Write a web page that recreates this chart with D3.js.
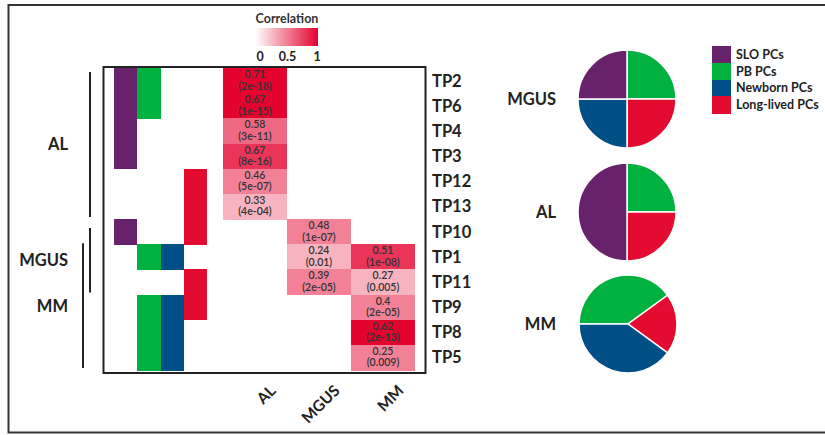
<!DOCTYPE html>
<html>
<head>
<meta charset="utf-8">
<script src="https://cdn.jsdelivr.net/npm/d3@7"></script>
<style>
  body { margin: 0; background: #fff; }
  svg { font-family: Lato, "Open Sans", sans-serif; }
</style>
</head>
<body>
<div id="container"></div>
<script>
// ---- data ----
let rows = ["TP2", "TP6", "TP4", "TP3", "TP12", "TP13", "TP10", "TP1", "TP11", "TP9", "TP8", "TP5"];
let cellTypes = ["SLO PCs", "PB PCs", "Newborn PCs", "Long-lived PCs"];
let typeColors = ["#68216b", "#00b140", "#004f86", "#e30b2f"];

// which time points carry each PC signature
let sloRows = ["TP2", "TP6", "TP4", "TP3", "TP10"];
let pbRows = ["TP2", "TP6", "TP1", "TP9", "TP8", "TP5"];
let newbornRows = ["TP1", "TP9", "TP8", "TP5"];
let longLivedRows = ["TP12", "TP13", "TP10", "TP11", "TP9"];

let groups = ["AL", "MGUS", "MM"];

// [row, correlation, p value, shade on the colour bar]
let alCells = [
  ["TP2", 0.71, "2e-18", 1.0],
  ["TP6", 0.67, "1e-15", 1.0],
  ["TP4", 0.58, "3e-11", 0.6],
  ["TP3", 0.67, "8e-16", 0.8],
  ["TP12", 0.46, "5e-07", 0.5],
  ["TP13", 0.33, "4e-04", 0.3]
];
let mgusCells = [
  ["TP10", 0.48, "1e-07", 0.5],
  ["TP1", 0.24, "0.01", 0.3],
  ["TP11", 0.39, "2e-05", 0.5]
];
let mmCells = [
  ["TP1", 0.51, "1e-08", 0.8],
  ["TP11", 0.27, "0.005", 0.3],
  ["TP9", 0.4, "2e-05", 0.5],
  ["TP8", 0.62, "2e-13", 1.0],
  ["TP5", 0.25, "0.009", 0.5]
];

// disease brackets on the left: [label, first row, last row]
let brackets = [["AL", "TP2", "TP13"], ["MGUS", "TP10", "TP11"], ["MM", "TP1", "TP5"]];

// pie shares in cellTypes order
let pieGroups = ["MGUS", "AL", "MM"];
let mgusShares = [1, 1, 1, 1];
let alShares = [2, 1, 0, 1];
let mmShares = [0, 2, 2, 1];

let colorTicks = [0, 0.5, 1];

// ---- layout ----
let w = 825;
let h = 435;

let viz = d3.select("#container")
  .append("svg")
  .attr("width", w)
  .attr("height", h);

// outer frame (left, top, bottom)
viz.append("path")
  .attr("d", "M825,5 H8.5 V432.5 H825")
  .attr("fill", "none")
  .attr("stroke", "#333")
  .attr("stroke-width", 2);

let yScale = d3.scaleBand().domain(rows).range([68, 370]);
let typeScale = d3.scaleBand().domain(cellTypes).range([114, 207]);
let groupScale = d3.scaleBand().domain(groups).range([223, 415]);
let typeColor = d3.scaleOrdinal().domain(cellTypes).range(typeColors);
let shade = d3.scaleLinear().domain([0, 1]).range(["#ffffff", "#e4032e"]).interpolate(d3.interpolateRgb);

// indicator tiles
let membership = [sloRows, pbRows, newbornRows, longLivedRows];
let tiles = [];
membership.forEach((list, i) => {
  list.forEach(r => tiles.push({ type: cellTypes[i], row: r }));
});

viz.append("g").attr("class", "tiles")
  .attr("shape-rendering", "crispEdges")
  .selectAll("rect")
  .data(tiles)
  .enter()
  .append("rect")
  .attr("x", d => typeScale(d.type))
  .attr("y", d => yScale(d.row))
  .attr("width", typeScale.bandwidth())
  .attr("height", yScale.bandwidth() + 0.6)
  .attr("fill", d => typeColor(d.type));

// correlation cells
let cells = [];
[alCells, mgusCells, mmCells].forEach((arr, i) => {
  arr.forEach(c => cells.push({ group: groups[i], row: c[0], r: c[1], p: c[2], level: c[3] }));
});

let cellGroups = viz.append("g").attr("class", "cells")
  .selectAll("g")
  .data(cells)
  .enter()
  .append("g")
  .attr("transform", d => "translate(" + groupScale(d.group) + "," + yScale(d.row) + ")");

cellGroups.append("rect")
  .attr("shape-rendering", "crispEdges")
  .attr("width", groupScale.bandwidth())
  .attr("height", yScale.bandwidth() + 0.6)
  .attr("fill", d => shade(d.level));

cellGroups.append("text")
  .attr("x", groupScale.bandwidth() / 2)
  .attr("y", yScale.bandwidth() / 2 - 2.5)
  .attr("text-anchor", "middle")
  .attr("font-size", 10.5)
  .attr("font-weight", 600)
  .attr("fill", "#333")
  .text(d => d.r);
cellGroups.append("text")
  .attr("x", groupScale.bandwidth() / 2)
  .attr("y", yScale.bandwidth() / 2 + 9)
  .attr("text-anchor", "middle")
  .attr("font-size", 10.5)
  .attr("font-weight", 600)
  .attr("fill", "#333")
  .text(d => "(" + d.p + ")");

// box around heatmap
viz.append("rect")
  .attr("x", 103.5)
  .attr("y", 67)
  .attr("width", 322)
  .attr("height", 306)
  .attr("fill", "none")
  .attr("stroke", "#222")
  .attr("stroke-width", 2);

// row labels
viz.append("g").selectAll("text")
  .data(rows)
  .enter()
  .append("text")
  .attr("x", 432)
  .attr("y", d => yScale(d) + yScale.bandwidth() / 2)
  .attr("dy", "0.36em")
  .attr("font-size", 16.5)
  .attr("font-weight", 700)
  .attr("fill", "#222")
  .text(d => d);

// column labels (rotated)
viz.append("g").selectAll("text")
  .data(groups)
  .enter()
  .append("text")
  .attr("transform", d => "translate(" + (groupScale(d) + groupScale.bandwidth() / 2 + 14) + ",384) rotate(-45)")
  .attr("text-anchor", "end")
  .attr("dy", "0.7em")
  .attr("font-size", 15.5)
  .attr("font-weight", 700)
  .attr("fill", "#222")
  .text(d => d);

// brackets
let bracketX = [90, 90, 83];
let bracketPad = [[4, 2], [9, 2], [-1, 2]];
let bracketG = viz.append("g").selectAll("g")
  .data(brackets)
  .enter()
  .append("g");
bracketG.append("line")
  .attr("x1", (d, i) => bracketX[i])
  .attr("x2", (d, i) => bracketX[i])
  .attr("y1", (d, i) => yScale(d[1]) + bracketPad[i][0])
  .attr("y2", (d, i) => yScale(d[2]) + yScale.bandwidth() - bracketPad[i][1])
  .attr("stroke", "#222")
  .attr("stroke-width", 2);
bracketG.append("text")
  .attr("x", 68)
  .attr("y", (d, i) => (yScale(d[1]) + bracketPad[i][0] + yScale(d[2]) + yScale.bandwidth() - bracketPad[i][1]) / 2)
  .attr("dy", "0.36em")
  .attr("text-anchor", "end")
  .attr("font-size", 16.5)
  .attr("font-weight", 700)
  .attr("fill", "#222")
  .text(d => d[0]);

// colour bar legend
let grad = viz.append("defs").append("linearGradient").attr("id", "corrGrad");
grad.append("stop").attr("offset", "0%").attr("stop-color", shade(0));
grad.append("stop").attr("offset", "100%").attr("stop-color", shade(1));

let cbScale = d3.scaleLinear().domain([0, 1]).range([257, 318]);
viz.append("rect")
  .attr("x", cbScale(0) - 2)
  .attr("y", 28)
  .attr("width", cbScale(1) - cbScale(0) + 2)
  .attr("height", 18)
  .attr("fill", "url(#corrGrad)");
viz.append("text")
  .attr("x", 287)
  .attr("y", 23)
  .attr("text-anchor", "middle")
  .attr("font-size", 12.5)
  .attr("font-weight", 700)
  .attr("fill", "#333")
  .text("Correlation");
viz.append("g").selectAll("text")
  .data(colorTicks)
  .enter()
  .append("text")
  .attr("x", d => cbScale(d) + (d === 0 ? 3 : d === 1 ? -1 : 0))
  .attr("y", 61)
  .attr("text-anchor", "middle")
  .attr("font-size", 12.5)
  .attr("font-weight", 700)
  .attr("fill", "#222")
  .text(d => d);

// pies
let pieShares = [mgusShares, alShares, mmShares];
let pieCenters = [[627, 99], [627, 212], [628, 324]];
let pieStart = [0, 0, -Math.PI / 2];
let drawOrder = [1, 3, 2, 0]; // PB, Long-lived, Newborn, SLO clockwise
let arc = d3.arc().innerRadius(0).outerRadius(49);

pieGroups.forEach((name, gi) => {
  let pie = d3.pie()
    .sort(null)
    .value(d => d.v)
    .startAngle(pieStart[gi])
    .endAngle(pieStart[gi] + 2 * Math.PI);
  let slices = drawOrder.map(k => ({ type: cellTypes[k], v: pieShares[gi][k] }));
  let g = viz.append("g")
    .attr("transform", "translate(" + pieCenters[gi][0] + "," + pieCenters[gi][1] + ")");
  g.selectAll("path")
    .data(pie(slices).filter(d => d.data.v > 0))
    .enter()
    .append("path")
    .attr("d", arc)
    .attr("fill", d => typeColor(d.data.type))
    .attr("stroke", "#fff")
    .attr("stroke-width", 1.5);
  viz.append("text")
    .attr("x", 556)
    .attr("y", pieCenters[gi][1])
    .attr("dy", "0.36em")
    .attr("text-anchor", "end")
    .attr("font-size", 16.5)
    .attr("font-weight", 700)
    .attr("fill", "#222")
    .text(name);
});

// cell type legend
let legScale = d3.scaleBand().domain(cellTypes).range([46, 113]);
let leg = viz.append("g").selectAll("g")
  .data(cellTypes)
  .enter()
  .append("g")
  .attr("transform", d => "translate(712," + legScale(d) + ")");
leg.append("rect")
  .attr("shape-rendering", "crispEdges")
  .attr("width", 19)
  .attr("height", legScale.bandwidth() + 0.5)
  .attr("fill", d => typeColor(d));
leg.append("text")
  .attr("x", 24)
  .attr("y", legScale.bandwidth() / 2)
  .attr("dy", "0.36em")
  .attr("font-size", 12.5)
  .attr("font-weight", 700)
  .attr("fill", "#222")
  .text(d => d);
</script>
</body>
</html>
